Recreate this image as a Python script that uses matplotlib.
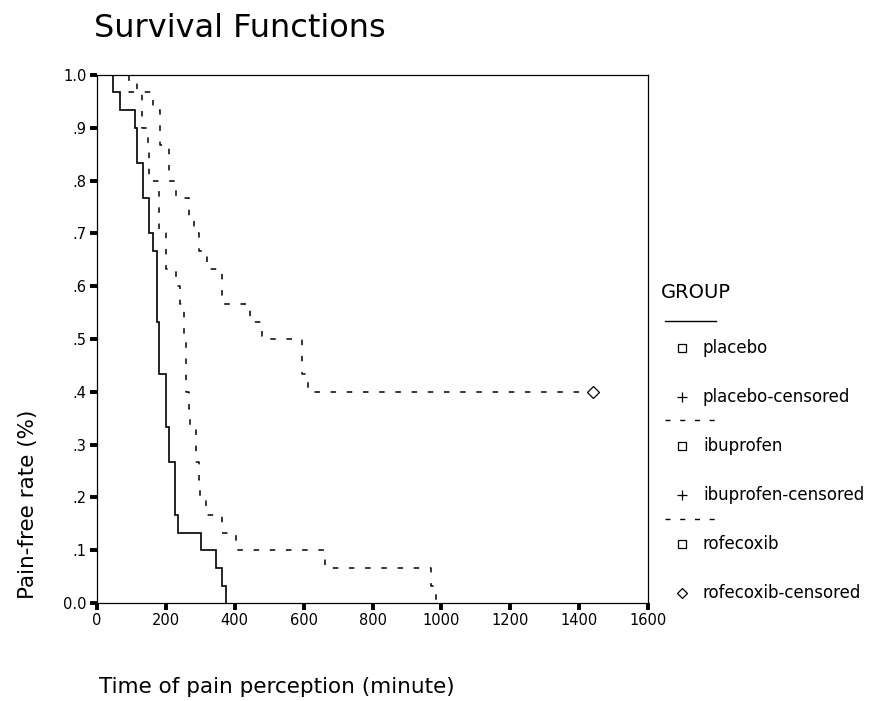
import matplotlib
matplotlib.use("Agg")
import matplotlib.pyplot as plt

# ---- data ----
placebo_t = [0, 46, 66, 111, 117, 133, 152, 162, 174, 181, 200, 210, 227, 234, 303, 345, 364, 374]
placebo_s = [1.0, 0.967, 0.933, 0.9, 0.833, 0.767, 0.7, 0.667, 0.533, 0.433, 0.333, 0.267,
             0.167, 0.133, 0.1, 0.067, 0.033, 0.0]

ibuprofen_t = [0, 93, 130, 148, 152, 181, 199, 230, 241, 252, 258, 266, 271, 287, 295, 300,
               316, 362, 403, 661, 971, 983]
ibuprofen_s = [1.0, 0.967, 0.9, 0.867, 0.8, 0.7, 0.633, 0.6, 0.567, 0.5, 0.4, 0.367, 0.333,
               0.267, 0.233, 0.2, 0.167, 0.133, 0.1, 0.067, 0.033, 0.0]

rofecoxib_t = [0, 117, 164, 182, 210, 228, 268, 282, 297, 318, 362, 443, 480, 595, 613, 1440]
rofecoxib_s = [1.0, 0.967, 0.933, 0.867, 0.8, 0.767, 0.733, 0.7, 0.667, 0.633, 0.567, 0.533,
               0.5, 0.433, 0.4, 0.4]
rofecoxib_cens_t = [1440]
rofecoxib_cens_s = [0.4]

x_ticks = [0, 200, 400, 600, 800, 1000, 1200, 1400, 1600]
y_ticks = [0.0, 0.1, 0.2, 0.3, 0.4, 0.5, 0.6, 0.7, 0.8, 0.9, 1.0]
y_tick_labels = ["0.0", ".1", ".2", ".3", ".4", ".5", ".6", ".7", ".8", ".9", "1.0"]

legend_title = "GROUP"
legend_labels = ["placebo", "placebo-censored", "ibuprofen", "ibuprofen-censored",
                 "rofecoxib", "rofecoxib-censored"]

W, H = 873, 701
fig = plt.figure(figsize=(W / 100, H / 100), dpi=100)
fig.patch.set_facecolor("white")

L, R, T, B = 97, 648, 75, 603
ax = fig.add_axes([L / W, 1 - B / H, (R - L) / W, (B - T) / H])

dash = (0, (3.6, 7.0))
ax.step(placebo_t, placebo_s, where="post", color="black", lw=1.2, solid_joinstyle="miter")
ax.step(ibuprofen_t, ibuprofen_s, where="post", color="black", lw=1.1, linestyle=dash)
ax.step(rofecoxib_t, rofecoxib_s, where="post", color="black", lw=1.1, linestyle=dash)
ax.plot(rofecoxib_cens_t, rofecoxib_cens_s, linestyle="none", marker="D", ms=6,
        mfc="white", mec="black", mew=0.9)

ax.set_xlim(0, 1600)
ax.set_ylim(0, 1.0)
ax.set_xticks(x_ticks)
ax.set_xticklabels([str(v) for v in x_ticks])
ax.set_yticks(y_ticks)
ax.set_yticklabels(y_tick_labels)
ax.tick_params(direction="out", length=5, width=2.8, labelsize=10.5, pad=2.5, colors="black")
for s in ax.spines.values():
    s.set_linewidth(0.9)
    s.set_color("black")

# titles and axis labels
fig.text(94 / W, 1 - 37 / H, "Survival Functions", fontsize=23,
         ha="left", va="baseline", color="black")
fig.text(99 / W, 1 - 693 / H, "Time of pain perception (minute)", fontsize=15.5,
         ha="left", va="baseline")
fig.text(28 / W, 1 - 599 / H, "Pain-free rate (%)", fontsize=15.5, rotation=90,
         ha="center", va="bottom")

# legend drawn in pixel coordinates
lg = fig.add_axes([0, 0, 1, 1])
lg.set_xlim(0, W)
lg.set_ylim(H, 0)
lg.set_facecolor("none")
lg.axis("off")

lg.text(661, 292, legend_title, fontsize=14, ha="left", va="center")
line_y = [321, 420, 519]
styles = ["-", dash, dash]
for yy, st in zip(line_y, styles):
    lg.plot([665, 716], [yy, yy], color="black", lw=1.0, linestyle=st)

item_y = [348, 397, 446, 495, 544, 593]
markers = ["s", "+", "s", "+", "s", "D"]
sizes = [5.5, 7, 5.5, 7, 5.5, 5]
for yy, lab, mk, sz in zip(item_y, legend_labels, markers, sizes):
    lg.plot([682], [yy], marker=mk, ms=sz, mfc="white", mec="black", mew=0.9,
            linestyle="none")
    lg.text(703, yy, lab, fontsize=12, ha="left", va="center")

fig.savefig("out.png", dpi=100)
